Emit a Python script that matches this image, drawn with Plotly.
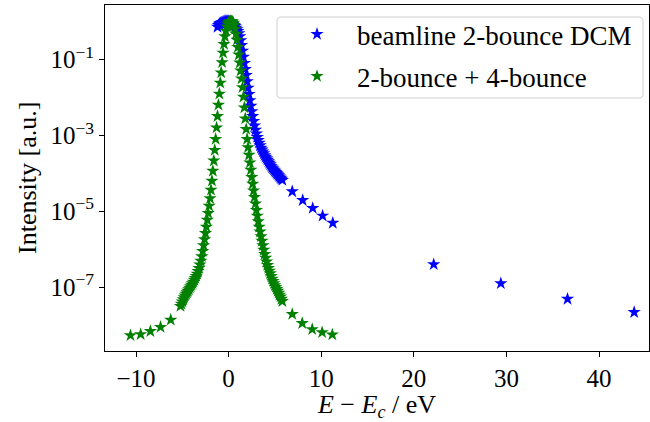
import numpy as np
import plotly.graph_objects as go

# ---------------- data ----------------
# beamline 2-bounce DCM : energy offset [eV] and log10(intensity)
blue_x = [
    -1.2, -1.1, -1.0, -0.9, -0.8, -0.7, -0.6, -0.5, -0.4, -0.3,
    -0.2, -0.1, 0.0, 0.1, 0.2, 0.3, 0.4, 0.5, 0.6, 0.7,
    0.8, 0.9, 1.0, 1.1, 1.2, 1.3, 1.4, 1.5, 1.6, 1.7,
    1.8, 1.9, 2.0, 2.1, 2.2, 2.3, 2.4, 2.5, 2.6, 2.7,
    2.8, 2.9, 3.0, 3.1, 3.2, 3.3, 3.4, 3.5, 3.6, 3.7,
    3.8, 3.9, 4.0, 4.1, 4.2, 4.3, 4.4, 4.5, 4.6, 4.7,
    4.8, 4.9, 5.0, 5.1, 5.2, 5.3, 5.4, 5.5, 5.6, 5.7,
    5.8,
    6.87, 8.0, 9.08, 10.15, 11.25, 22.15, 29.4, 36.6, 43.8,
]
blue_log10 = [
    -0.15, -0.10, -0.07, -0.05, -0.04, -0.03, -0.02, -0.01, 0.00, 0.00,
    0.00, 0.00, 0.00, -0.01, -0.02, -0.03, -0.05, -0.07, -0.10, -0.13,
    -0.17, -0.21, -0.26, -0.32, -0.40, -0.50, -0.63, -0.78, -0.94, -1.10,
    -1.26, -1.42, -1.58, -1.75, -1.92, -2.08, -2.23, -2.37, -2.50, -2.63,
    -2.75, -2.86, -2.96, -3.05, -3.13, -3.20, -3.27, -3.33, -3.38, -3.43,
    -3.48, -3.53, -3.57, -3.61, -3.65, -3.69, -3.73, -3.77, -3.81, -3.85,
    -3.88, -3.91, -3.94, -3.97, -4.00, -4.03, -4.06, -4.09, -4.12, -4.15,
    -4.18,
    -4.48, -4.71, -4.92, -5.12, -5.31, -6.40, -6.90, -7.31, -7.66,
]

# 2-bounce + 4-bounce : energy offset [eV] and log10(intensity)
green_x = [
    -10.6, -9.5, -8.45, -7.35, -6.25,
    -5.2, -5.1, -5.0, -4.9, -4.8, -4.7, -4.6, -4.5, -4.4, -4.3,
    -4.2, -4.1, -4.0, -3.9, -3.8, -3.7, -3.6, -3.5, -3.4, -3.3,
    -3.2, -3.1, -3.0, -2.9, -2.8, -2.7, -2.6, -2.5, -2.4, -2.3,
    -2.2, -2.1, -2.0, -1.9, -1.8, -1.7, -1.6, -1.5, -1.4, -1.3,
    -1.2, -1.1, -1.0, -0.9, -0.8, -0.7, -0.6, -0.5, -0.4, -0.3,
    -0.2, -0.1, 0.0, 0.1, 0.2, 0.3, 0.4, 0.5, 0.6, 0.7,
    0.8, 0.9, 1.0, 1.1, 1.2, 1.3, 1.4, 1.5, 1.6, 1.7,
    1.8, 1.9, 2.0, 2.1, 2.2, 2.3, 2.4, 2.5, 2.6, 2.7,
    2.8, 2.9, 3.0, 3.1, 3.2, 3.3, 3.4, 3.5, 3.6, 3.7,
    3.8, 3.9, 4.0, 4.1, 4.2, 4.3, 4.4, 4.5, 4.6, 4.7,
    4.8, 4.9, 5.0, 5.1, 5.2, 5.3, 5.4, 5.5, 5.6, 5.7,
    5.8,
    6.87, 7.95, 9.03, 10.1, 11.2,
]
green_log10 = [
    -8.27, -8.24, -8.16, -8.05, -7.86,
    -7.50, -7.44, -7.38, -7.32, -7.27, -7.22, -7.18, -7.14, -7.10, -7.06,
    -7.02, -6.98, -6.94, -6.90, -6.86, -6.81, -6.76, -6.71, -6.65, -6.58,
    -6.50, -6.41, -6.31, -6.19, -6.05, -5.90, -5.74, -5.58, -5.41, -5.23,
    -5.05, -4.86, -4.66, -4.44, -4.20, -3.94, -3.67, -3.39, -3.10, -2.80,
    -2.50, -2.20, -1.91, -1.62, -1.35, -1.08, -0.83, -0.60, -0.40, -0.25,
    -0.14, -0.07, -0.03, -0.01, 0.00, 0.00, -0.01, -0.04, -0.10, -0.20,
    -0.33, -0.49, -0.68, -0.88, -1.09, -1.30, -1.51, -1.74, -1.99, -2.27,
    -2.56, -2.84, -3.10, -3.32, -3.52, -3.72, -3.91, -4.10, -4.28, -4.46,
    -4.63, -4.80, -4.97, -5.12, -5.27, -5.41, -5.54, -5.66, -5.78, -5.90,
    -6.02, -6.13, -6.23, -6.33, -6.42, -6.50, -6.57, -6.64, -6.71, -6.78,
    -6.84, -6.90, -6.95, -7.00, -7.05, -7.10, -7.15, -7.20, -7.25, -7.31,
    -7.37,
    -7.71, -7.95, -8.11, -8.19, -8.25,
]

series_names = ["beamline 2-bounce DCM", "2-bounce + 4-bounce"]
x_tick_vals = [-10, 0, 10, 20, 30, 40]
x_tick_text = ["\u221210", "0", "10", "20", "30", "40"]
y_tick_vals = [1e-1, 1e-3, 1e-5, 1e-7]
y_tick_text = ["10<sup>\u22121</sup>", "10<sup>\u22123</sup>",
               "10<sup>\u22125</sup>", "10<sup>\u22127</sup>"]

# ---------------- figure ----------------
FONT = "Liberation Serif"

fig = go.Figure()
fig.add_trace(go.Scatter(
    x=blue_x, y=np.power(10.0, blue_log10), mode="markers",
    name=series_names[0], legendgroup="a",
    marker=dict(symbol="star", size=10, color="#0000ff", line=dict(width=0)),
))
fig.add_trace(go.Scatter(
    x=green_x, y=np.power(10.0, green_log10), mode="markers",
    name=series_names[1], legendgroup="b",
    marker=dict(symbol="star", size=10, color="#008000", line=dict(width=0)),
))

axis_common = dict(
    showline=True, linecolor="black", linewidth=1, mirror=True,
    ticks="outside", ticklen=5, tickwidth=1, tickcolor="black",
    showgrid=False, zeroline=False, automargin=False,
    tickfont=dict(family=FONT, size=25, color="black"),
)

fig.update_xaxes(
    range=[-13.35, 45.4], tickmode="array",
    tickvals=x_tick_vals, ticktext=x_tick_text,
    title=dict(text="<i>E</i> \u2212 <i>E</i><sub><i>c</i></sub> / eV",
               font=dict(family=FONT, size=26, color="black")),
    **axis_common,
)
fig.update_yaxes(
    type="log", range=[-8.68, 0.43], tickmode="array",
    tickvals=y_tick_vals, ticktext=y_tick_text,
    **axis_common,
)

# y-axis title as an annotation for exact placement
fig.add_annotation(
    text="Intensity [a.u.]", textangle=-90, showarrow=False,
    xref="paper", yref="paper", x=-0.1434, y=0.5,
    xanchor="center", yanchor="middle",
    font=dict(family=FONT, size=26, color="black"),
)

# rounded legend frame (matplotlib style)
x0, x1, yb, yt = 0.3162, 0.989, 0.7312, 0.9653
dx, dy = 0.0074, 0.0116
legend_path = (
    f"M {x0+dx},{yt} L {x1-dx},{yt} Q {x1},{yt} {x1},{yt-dy} "
    f"L {x1},{yb+dy} Q {x1},{yb} {x1-dx},{yb} "
    f"L {x0+dx},{yb} Q {x0},{yb} {x0},{yb+dy} "
    f"L {x0},{yt-dy} Q {x0},{yt} {x0+dx},{yt} Z"
)
fig.add_shape(
    type="path", path=legend_path, xref="paper", yref="paper",
    fillcolor="rgba(255,255,255,0.8)", line=dict(color="#d0d0d0", width=1),
    layer="above",
)

fig.update_layout(
    width=650, height=422,
    margin=dict(l=105, r=1, t=5, b=71),
    paper_bgcolor="white", plot_bgcolor="white",
    font=dict(family=FONT, size=24, color="black"),
    legend=dict(
        x=0.3162, y=0.9855, xanchor="left", yanchor="top",
        bgcolor="rgba(0,0,0,0)", borderwidth=0,
        font=dict(family=FONT, size=27, color="black"),
        itemwidth=70, tracegroupgap=4, traceorder="grouped",
    ),
    showlegend=True,
)

fig.write_html("out.html", config={"displayModeBar": False},
               post_script="document.body.style.margin='0';")
